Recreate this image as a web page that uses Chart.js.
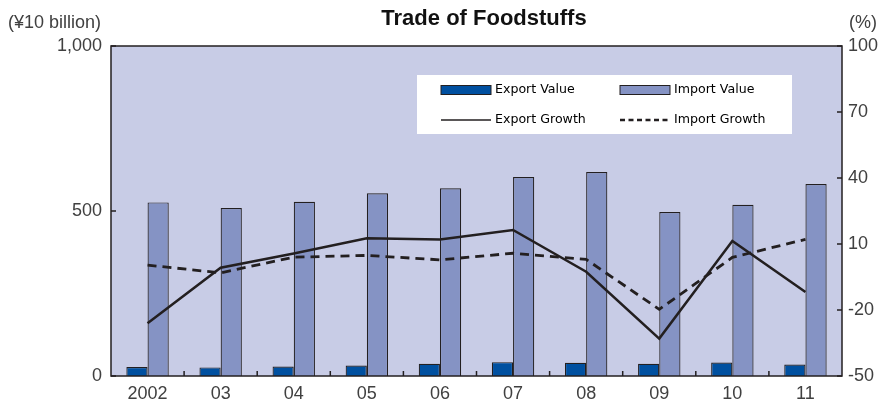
<!DOCTYPE html>
<html>
<head>
<meta charset="utf-8">
<script src="https://cdn.jsdelivr.net/npm/chart.js@4.4.1/dist/chart.umd.min.js"></script>
<style>
  html, body { margin: 0; padding: 0; background: #fff; }
  #wrap { position: relative; width: 885px; height: 400px; }
</style>
</head>
<body>
<div id="wrap"><canvas id="grafico" width="885" height="400"></canvas></div>
<script>
const years = ['2002', '03', '04', '05', '06', '07', '08', '09', '10', '11'];
const exportValue = [27, 26, 29, 32, 37, 42, 40, 37, 41, 35];
const importValue = [526, 509, 528, 554, 569, 603, 618, 497, 519, 582];
const exportGrowth = [-26, -0.8, 5.7, 12.6, 12.1, 16.4, -2.6, -33, 11.4, -11.8];
const importGrowth = [0.4, -3.1, 4, 4.8, 2.8, 5.8, 3, -19.7, 3.9, 12.1];
const leftTicks = [0, 500, 1000];
const rightTicks = [-50, -20, 10, 40, 70, 100];

const INK = '#231f20';
const TEXT = '#404040';
const FONT = '"Liberation Sans", Arial, sans-serif';
const TITLE_FONT = '"Liberation Sans", Arial, sans-serif';
const LEGEND_FONT = '"DejaVu Sans", sans-serif';

// fondo, marco, marcas interiores, titulos y leyenda
const decoracion = {
    id: 'decoracion',
    beforeDraw(chart) {
        const { ctx, chartArea: a } = chart;
        ctx.save();
        ctx.fillStyle = '#c8cce6';
        ctx.fillRect(a.left, a.top, a.right - a.left, a.bottom - a.top);
        ctx.restore();
    },
    afterDraw(chart) {
        const { ctx, chartArea: a, scales } = chart;
        ctx.save();
        ctx.strokeStyle = INK;
        ctx.lineWidth = 1.5;
        ctx.strokeRect(a.left, a.top, a.right - a.left, a.bottom - a.top);

        ctx.beginPath();
        const x = scales.x;
        for (let i = 1; i < years.length; i++) {
            const px = (x.getPixelForValue(i - 1) + x.getPixelForValue(i)) / 2;
            ctx.moveTo(px, a.bottom);
            ctx.lineTo(px, a.bottom - 5);
        }
        leftTicks.forEach(v => {
            const py = scales.y.getPixelForValue(v);
            ctx.moveTo(a.left, py);
            ctx.lineTo(a.left + 5, py);
        });
        rightTicks.forEach(v => {
            const py = scales.y2.getPixelForValue(v);
            ctx.moveTo(a.right, py);
            ctx.lineTo(a.right - 5, py);
        });
        ctx.stroke();

        // titulos
        ctx.fillStyle = '#111';
        ctx.font = 'bold 22px ' + TITLE_FONT;
        ctx.textAlign = 'center';
        ctx.textBaseline = 'middle';
        ctx.fillText('Trade of Foodstuffs', 484, 19);
        ctx.fillStyle = TEXT;
        ctx.font = '18px ' + FONT;
        ctx.textAlign = 'left';
        ctx.fillText('(¥10 billion)', 8, 23);
        ctx.fillText('(%)', 849, 23);

        // leyenda
        const lx = 417, ly = 75, lw = 375, lh = 59;
        ctx.fillStyle = '#ffffff';
        ctx.fillRect(lx, ly, lw, lh);
        const ds = chart.data.datasets;
        const items = [
            { d: ds[0], x: 441, y: 90 },
            { d: ds[1], x: 620, y: 90 },
            { d: ds[2], x: 441, y: 120 },
            { d: ds[3], x: 620, y: 120 }
        ];
        ctx.font = '12.6px ' + LEGEND_FONT;
        ctx.textBaseline = 'middle';
        items.forEach(it => {
            if (it.d.type === 'line') {
                ctx.strokeStyle = it.d.borderColor;
                ctx.lineWidth = it.d.borderDash ? 2.5 : 1.5;
                ctx.setLineDash(it.d.borderDash ? [5, 3.5] : []);
                ctx.beginPath();
                ctx.moveTo(it.x, it.y);
                ctx.lineTo(it.x + 50, it.y);
                ctx.stroke();
                ctx.setLineDash([]);
            } else {
                ctx.fillStyle = it.d.backgroundColor;
                ctx.fillRect(it.x, it.y - 4.5, 50, 9);
                ctx.strokeStyle = INK;
                ctx.lineWidth = 1;
                ctx.strokeRect(it.x, it.y - 4.5, 50, 9);
            }
            ctx.fillStyle = '#000';
            ctx.fillText(it.d.label, it.x + 54, it.y);
        });
        ctx.restore();
    }
};

const ctx = document.getElementById('grafico').getContext('2d');
new Chart(ctx, {
    data: {
        labels: years,
        datasets: [
            {
                type: 'bar',
                label: 'Export Value',
                data: exportValue,
                backgroundColor: '#0050a0',
                borderColor: INK,
                borderWidth: 1.2,
                yAxisID: 'y',
                order: 2
            },
            {
                type: 'bar',
                label: 'Import Value',
                data: importValue,
                backgroundColor: '#8593c4',
                borderColor: INK,
                borderWidth: 1.2,
                yAxisID: 'y',
                order: 2
            },
            {
                type: 'line',
                label: 'Export Growth',
                data: exportGrowth,
                borderColor: INK,
                borderWidth: 2.5,
                pointRadius: 0,
                tension: 0,
                fill: false,
                yAxisID: 'y2',
                order: 1
            },
            {
                type: 'line',
                label: 'Import Growth',
                data: importGrowth,
                borderColor: INK,
                borderWidth: 2.8,
                borderDash: [9, 6],
                pointRadius: 0,
                tension: 0,
                fill: false,
                yAxisID: 'y2',
                order: 1
            }
        ]
    },
    options: {
        responsive: false,
        animation: false,
        layout: { padding: { top: 46, left: 0, right: 0, bottom: 0 } },
        datasets: {
            bar: { categoryPercentage: 0.58, barPercentage: 1 }
        },
        plugins: {
            legend: { display: false },
            tooltip: { enabled: false },
            title: { display: false }
        },
        scales: {
            x: {
                offset: true,
                grid: { display: false, drawTicks: false },
                border: { display: false },
                ticks: { color: TEXT, font: { family: FONT, size: 18 }, padding: 7, maxRotation: 0 },
                afterFit(s) { s.height = 24; }
            },
            y: {
                position: 'left',
                min: 0,
                max: 1000,
                afterBuildTicks(s) { s.ticks = leftTicks.map(v => ({ value: v })); },
                grid: { display: false, drawTicks: false },
                border: { display: false },
                ticks: {
                    color: TEXT,
                    font: { family: FONT, size: 18 },
                    padding: 9,
                    callback: v => v.toLocaleString('en-US')
                },
                afterFit(s) { s.width = 111; }
            },
            y2: {
                position: 'right',
                min: -50,
                max: 100,
                afterBuildTicks(s) { s.ticks = rightTicks.map(v => ({ value: v })); },
                grid: { display: false, drawTicks: false },
                border: { display: false },
                ticks: { color: TEXT, font: { family: FONT, size: 18 }, padding: 6 },
                afterFit(s) { s.width = 43; }
            }
        }
    },
    plugins: [decoracion]
});
</script>
</body>
</html>
